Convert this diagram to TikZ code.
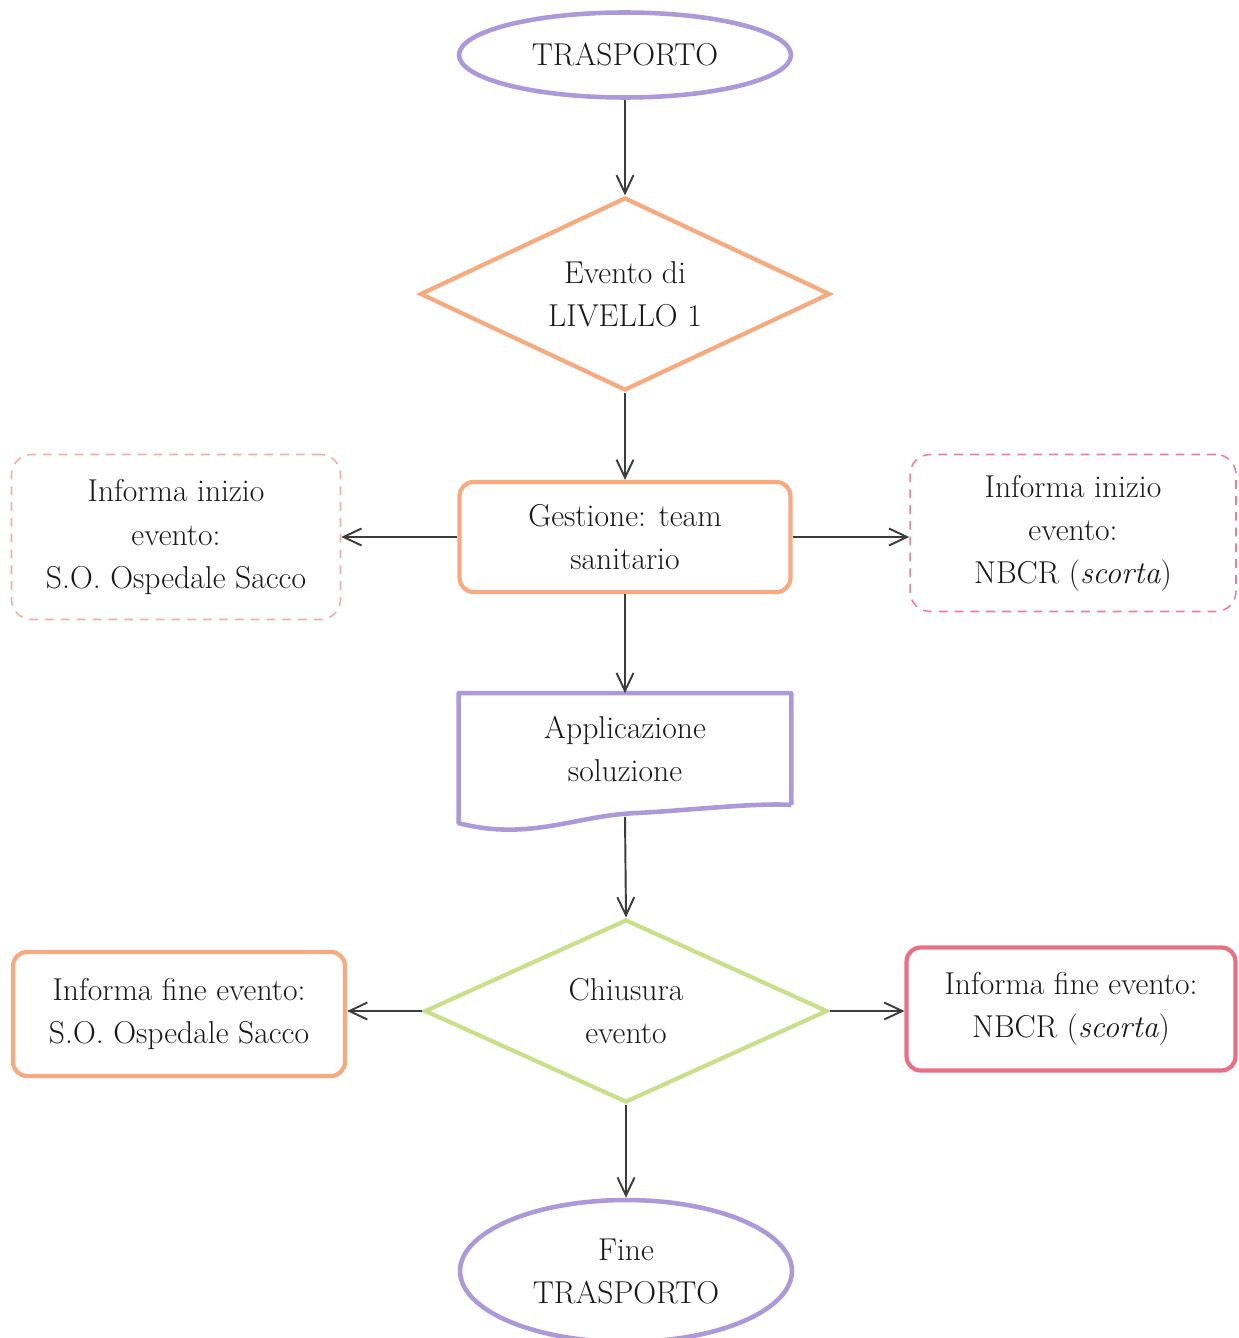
\documentclass[tikz,border=0pt]{standalone}
\usetikzlibrary{shapes.geometric,arrows.meta,calc}
\definecolor{lilla}{RGB}{172,154,216}
\definecolor{arancio}{RGB}{246,170,128}
\definecolor{rosa}{RGB}{232,128,150}
\definecolor{rosachiaro}{RGB}{236,176,176}
\definecolor{verdino}{RGB}{204,222,140}
\definecolor{rossetto}{RGB}{232,112,132}
\definecolor{grigiofreccia}{RGB}{60,60,60}
\tikzset{every node/.style={font=\fontsize{18}{24.5}\selectfont, align=center, inner sep=0pt, text=black!90},
  terminale/.style={ellipse, draw=lilla, line width=2.6pt, minimum width=6.64cm},
  decisione/.style={diamond, line width=2.4pt, aspect=2.1},
  blocco/.style={rectangle, rounded corners=0.28cm, line width=2.4pt},
  avviso/.style={rectangle, rounded corners=0.4cm, line width=0.9pt, dash pattern=on 5pt off 4pt},
  freccia/.style={draw=grigiofreccia, line width=1.1pt, -{Straight Barb[length=3.6mm,width=3.4mm,line width=1.1pt]}},
  docbordo/.style={draw=lilla, line width=2.6pt, line join=round}}

\begin{document}
\begin{tikzpicture}[x=0.02cm, y=-0.02cm]
  \useasboundingbox (0,0) rectangle (1238,1338);
  \node[terminale, minimum height=1.7cm] (trasporto) at (625,55) {TRASPORTO};
  \node[decisione, draw=arancio, minimum width=8.2cm, minimum height=3.86cm] (evento) at (625,294) {Evento di\\LIVELLO 1};
  \node[blocco, draw=arancio, minimum width=6.62cm, minimum height=2.2cm] (gestione) at (625,537) {Gestione: team\\sanitario};
  \node[avviso, draw=rosachiaro, minimum width=6.58cm, minimum height=3.3cm] (inizioL) at (176,537) {Informa inizio\\evento:\\S.O. Ospedale Sacco};
  \node[avviso, draw=rosa, minimum width=6.52cm, minimum height=3.14cm] (inizioR) at (1073,533) {Informa inizio\\evento:\\NBCR (\textit{scorta})};
  \node[rectangle, minimum width=6.64cm, minimum height=2.22cm] (appl) at (625,749) {Applicazione\\soluzione};
  \draw[docbordo] (appl.south east) -- (appl.north east) -- (appl.north west) -- ++(0,130)
    .. controls +(70,18) and +(-60,3) .. ++(175,-10)
    .. controls +(60,-3) and +(-40,-2) .. (appl.south east);
  \node[decisione, draw=verdino, minimum width=8.06cm, minimum height=3.66cm] (chiusura) at (626,1011) {Chiusura\\evento};
  \node[blocco, draw=arancio, minimum width=6.64cm, minimum height=2.48cm] (fineL) at (179,1014) {Informa fine evento:\\S.O. Ospedale Sacco};
  \node[blocco, draw=rossetto, minimum width=6.58cm, minimum height=2.46cm] (fineR) at (1071,1009) {Informa fine evento:\\NBCR (\textit{scorta})};
  \node[terminale, minimum height=2.84cm] (fine) at (626,1271) {Fine\\TRASPORTO};

  \draw[freccia] (trasporto.south) -- (evento.north);
  \draw[freccia] (evento.south) -- (gestione.north);
  \draw[freccia] (gestione.west) -- (gestione.west -| inizioL.east);
  \draw[freccia] (gestione.east) -- (gestione.east -| inizioR.west);
  \draw[freccia] (gestione.south) -- (appl.north);
  \draw[freccia] ([yshift=-0.24cm]appl.south) -- (chiusura.north);
  \draw[freccia] (chiusura.west) -- (chiusura.west -| fineL.east);
  \draw[freccia] (chiusura.east) -- (chiusura.east -| fineR.west);
  \draw[freccia] (chiusura.south) -- (fine.north);
\end{tikzpicture}
\end{document}
